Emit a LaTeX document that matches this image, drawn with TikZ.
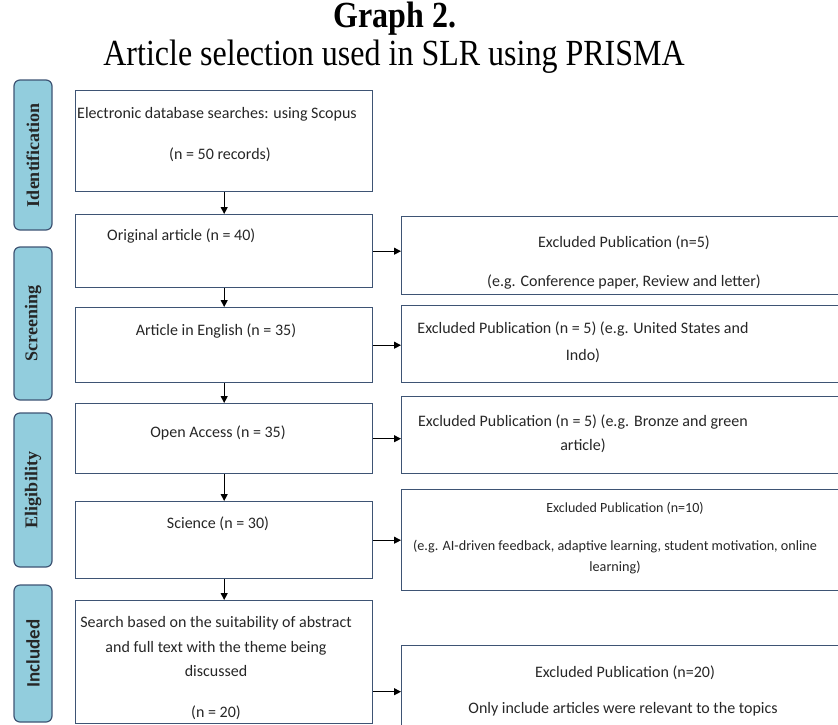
\documentclass[tikz,border=0pt]{standalone}
\usepackage{fontspec}
\setmainfont{Liberation Serif}
\newfontfamily\boxfont{Carlito}
\usetikzlibrary{positioning,arrows.meta}

\definecolor{barblue}{RGB}{146,205,221}
\definecolor{edgeblue}{RGB}{62,84,116}

\tikzset{
  stagebar/.style={draw=edgeblue, fill=barblue, rounded corners=6pt, line width=1.2pt, rotate=90, minimum height=38pt, inner sep=0pt, text=black!85},
  stepbox/.style={draw=edgeblue, line width=1.4pt, anchor=north west, inner sep=0pt},
  txt/.style={font=\boxfont\fontsize{16}{19}\selectfont, inner sep=0pt, align=center, text=black!85},
  flow/.style={-{Triangle[length=7pt,width=7pt]}, line width=1pt}
}

\begin{document}
\begin{tikzpicture}[x=1pt, y=-1pt]
                \useasboundingbox (0,0) rectangle (838,724);

                % title
                \node[font=\fontsize{32}{32}\selectfont\bfseries] (title) at (395,19) {\scalebox{1}[1.15]{Graph 2.}};
                \node[font=\fontsize{32}{32}\selectfont] (subtitle) at (394,57) {\scalebox{1}[1.15]{Article selection used in SLR using PRISMA}};

                % stages
                \node[stagebar, minimum width=150pt, font=\fontsize{18}{18}\selectfont\bfseries] (ident) at (33,155) {Identification};
                \node[stagebar, minimum width=153pt, font=\fontsize{18}{18}\selectfont\bfseries] (screen) at (33,323.5) {Screening};
                \node[stagebar, minimum width=154pt, font=\fontsize{18}{18}\selectfont\bfseries] (elig) at (33,490) {Eligibility};
                \node[stagebar, minimum width=137pt, font=\boxfont\fontsize{19}{19}\selectfont\bfseries] (incl) at (33,653.5) {Included};

                % main column
                \node[stepbox, minimum width=297pt, minimum height=101pt] (b1) at (75,90) {};
                \node[stepbox, minimum width=297pt, minimum height=73pt] (b2) at (75,214) {};
                \node[stepbox, minimum width=297pt, minimum height=75pt] (b3) at (75,307) {};
                \node[stepbox, minimum width=297pt, minimum height=70pt] (b4) at (75,403) {};
                \node[stepbox, minimum width=297pt, minimum height=77pt] (b5) at (75,501) {};
                \node[stepbox, minimum width=297pt, minimum height=123pt] (b6) at (75,600) {};

                \node[txt, anchor=west] (t1a) at (77,114) {Electronic database searches: using Scopus};
                \node[txt] (t1b) at (220,155) {(n = 50 records)};
                \node[txt, anchor=west] (t2) at (107,236) {Original article (n = 40)};
                \node[txt] (t3) at (216,331) {Article in English (n = 35)};
                \node[txt] (t4) at (218,433) {Open Access (n = 35)};
                \node[txt] (t5) at (218,524) {Science (n = 30)};
                \node[txt, font=\boxfont\fontsize{16}{24.5}\selectfont] (t6a) at (216,646.5) {Search based on the suitability of abstract\\and full text with the theme being\\discussed};
                \node[txt] (t6b) at (216,713) {(n = 20)};

                % excluded column
                \node[stepbox, minimum width=460pt, minimum height=78pt] (r1) at (401,216) {};
                \node[stepbox, minimum width=460pt, minimum height=77pt] (r2) at (401,305) {};
                \node[stepbox, minimum width=460pt, minimum height=77pt] (r3) at (401,396) {};
                \node[stepbox, minimum width=460pt, minimum height=101pt] (r4) at (401,489) {};
                \node[stepbox, minimum width=460pt, minimum height=92pt] (r5) at (401,645) {};

                \node[txt] (r1a) at (624,243) {Excluded Publication (n=5)};
                \node[txt] (r1b) at (624,282) {(e.g. Conference paper, Review and letter)};
                \node[txt, font=\boxfont\fontsize{16}{27}\selectfont] (r2t) at (583,342) {Excluded Publication (n = 5) (e.g. United States and\\Indo)};
                \node[txt, font=\boxfont\fontsize{16}{24}\selectfont] (r3t) at (583,434) {Excluded Publication (n = 5) (e.g. Bronze and green\\article)};
                \node[txt, font=\boxfont\fontsize{14}{16}\selectfont] (r4a) at (625,508) {Excluded Publication (n=10)};
                \node[txt, font=\boxfont\fontsize{14.2}{21}\selectfont] (r4b) at (615,557) {(e.g. AI-driven feedback, adaptive learning, student motivation, online\\learning)};
                \node[txt] (r5a) at (625,673) {Excluded Publication (n=20)};
                \node[txt] (r5b) at (623,709) {Only include articles were relevant to the topics};

                % arrows
                \draw[flow] (b1) -- (b2);
                \draw[flow] (b2) -- (b3);
                \draw[flow] (b3) -- (b4);
                \draw[flow] (b4) -- (b5);
                \draw[flow] (b5) -- (b6);
                \draw[flow] (b2.east) -- (b2.east -| r1.west);
                \draw[flow] (b3.east) -- (b3.east -| r2.west);
                \draw[flow] (b4.east) -- (b4.east -| r3.west);
                \draw[flow] (b5.east) -- (b5.east -| r4.west);
                \draw[flow] (r5.west -| b6.east) -- (r5.west);
            \end{tikzpicture}
\end{document}
